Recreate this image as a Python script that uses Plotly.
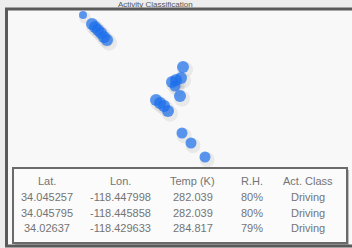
import plotly.graph_objects as go

# GPS fixes (longitude / latitude)
lon = [-118.4534, -118.4516, -118.4510, -118.4504, -118.4498, -118.4492, -118.4486,
       -118.4334, -118.4356, -118.4348, -118.4338, -118.4350, -118.4340,
       -118.4388, -118.4380, -118.4372, -118.4364,
       -118.4336, -118.4318, -118.4290]
lat = [34.04775, 34.0464, 34.04595, 34.0455, 34.04505, 34.04445, 34.0440,
       34.03995, 34.0377, 34.0380, 34.0383, 34.0371, 34.0356,
       34.0350, 34.03455, 34.0341, 34.03335,
       34.03005, 34.02855, 34.02645]
sizes = [8, 12, 12, 12, 12, 12, 12,
         12, 12, 12, 12, 11, 12,
         12, 12, 12, 12,
         11, 11, 11]

# table
col_headers = ["Lat.", "Lon.", "Temp (K)", "R.H.", "Act. Class"]
tab_lat = ["34.045257", "34.045795", "34.02637"]
tab_lon = ["-118.447998", "-118.445858", "-118.429633"]
tab_temp = ["282.039", "282.039", "284.817"]
tab_rh = ["80%", "80%", "79%"]
tab_class = ["Driving", "Driving", "Driving"]

W, H = 352, 248
L, R, T, B = 8, 0, 10, 2
PW, PH = W - L - R, H - T - B

def px(x):
    return (x - L) / PW

def py(y):
    return (H - B - y) / PH

fig = go.Figure()
# soft shadow
fig.add_trace(go.Scatter(x=[v + 0.0004 for v in lon], y=[v - 0.0004 for v in lat],
                         mode="markers", hoverinfo="skip",
                         marker=dict(size=[s + 4 for s in sizes], color="rgba(110,110,110,0.15)",
                                     line=dict(width=0))))
fig.add_trace(go.Scatter(x=lon, y=lat, mode="markers",
                         marker=dict(size=sizes, color="#1a6eec", line=dict(width=0))))

shapes = [
    # plot frame
    dict(type="rect", xref="paper", yref="paper", x0=px(6.5), x1=px(362), y0=py(246), y1=py(9),
         line=dict(color="#5a5a5a", width=3), fillcolor="rgba(0,0,0,0)", layer="above"),
    # table shadow
    dict(type="rect", xref="paper", yref="paper", x0=px(15), x1=px(349), y0=py(245), y1=py(170),
         line=dict(width=0), fillcolor="rgba(80,80,80,0.35)", layer="above"),
    # table box
    dict(type="rect", xref="paper", yref="paper", x0=px(13), x1=px(347), y0=py(243), y1=py(168),
         line=dict(color="#6a6a6a", width=2), fillcolor="#fbfbfb", layer="above"),
]

annotations = []
col_x = [47, 120, 193, 252, 308]
row_y = [181, 197, 213, 228]
columns = [tab_lat, tab_lon, tab_temp, tab_rh, tab_class]
for cx, head, vals in zip(col_x, col_headers, columns):
    annotations.append(dict(x=px(cx), y=py(row_y[0]), xref="paper", yref="paper",
                            text=head, showarrow=False, xanchor="center", yanchor="middle",
                            font=dict(family="Liberation Sans", size=11, color="#747474")))
    for ry, v in zip(row_y[1:], vals):
        annotations.append(dict(x=px(cx), y=py(ry), xref="paper", yref="paper",
                                text=v, showarrow=False, xanchor="center", yanchor="middle",
                                font=dict(family="Liberation Sans", size=11, color="#747474")))

# title (squeezed into the top strip)
annotations.append(dict(x=px(155), y=py(4.5), xref="paper", yref="paper",
                        text="Activity Classification", showarrow=False,
                        xanchor="center", yanchor="middle", borderpad=0,
                        font=dict(family="Liberation Sans", size=8, color="#555555")))

fig.update_layout(
    width=W, height=H,
    margin=dict(l=L, r=R, t=T, b=B),
    paper_bgcolor="#ededed",
    plot_bgcolor="#f8f8f8",
    showlegend=False,
    xaxis=dict(range=[-118.47 + L * 0.0002, -118.47 + (W - R) * 0.0002],
               visible=False, fixedrange=True),
    yaxis=dict(range=[34.05 - (H - B) * 0.00015, 34.05 - T * 0.00015],
               visible=False, fixedrange=True),
    shapes=shapes,
    annotations=annotations,
)

fig.write_html("out.html", config={"displayModeBar": False},
               post_script="document.body.style.margin='0';document.body.style.overflow='hidden';")
